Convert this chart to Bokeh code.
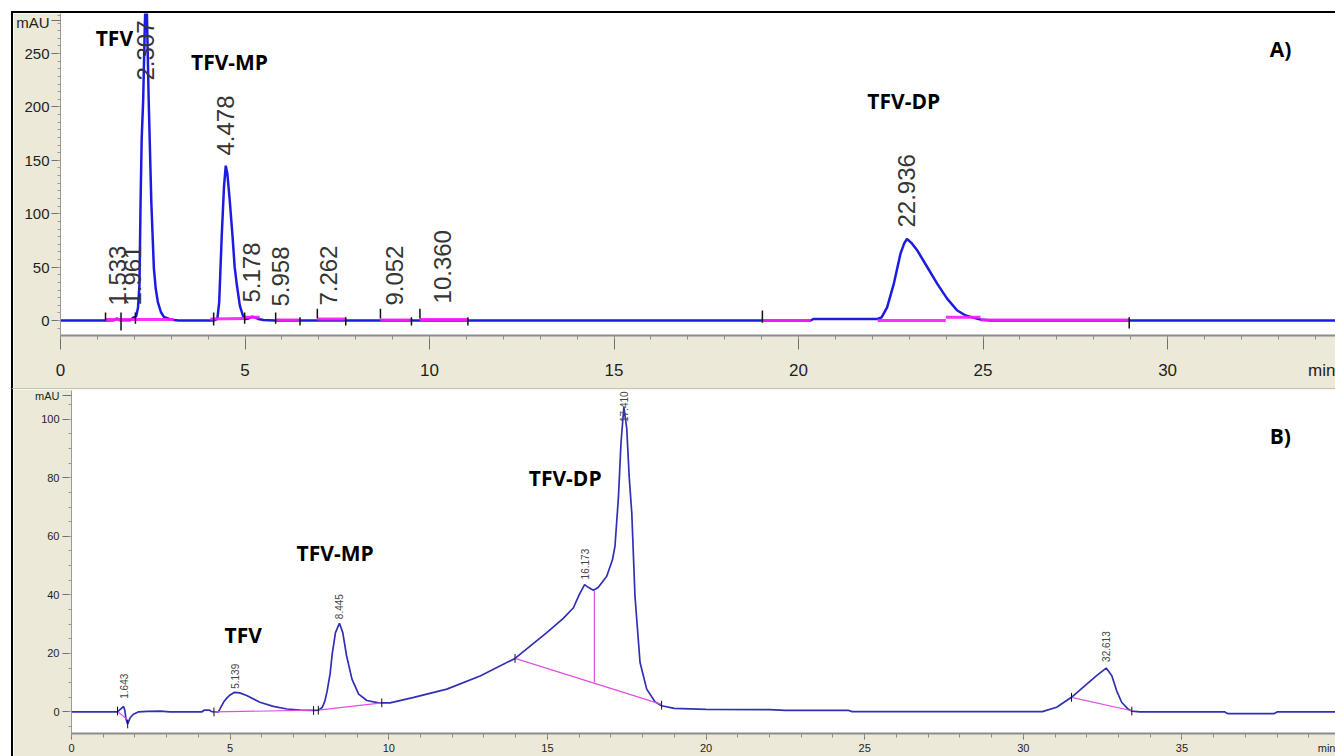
import numpy as np
from bokeh.plotting import figure
from bokeh.layouts import column
from bokeh.models import Range1d, FixedTicker
from bokeh.core.properties import value
from bokeh.embed import file_html
from bokeh.resources import INLINE

# ---------------- Panel A data (time in min, signal in mAU) ----------------
a_time = [0.00, 1.22, 1.45, 1.53, 1.60, 1.90, 1.96, 2.05, 2.10, 2.14, 2.17, 2.20, 2.24, 2.28, 2.307,
          2.34, 2.39, 2.46, 2.53, 2.58, 2.64, 2.72, 2.80, 2.95, 3.07, 3.20, 4.15, 4.25, 4.30, 4.37,
          4.43, 4.478, 4.52, 4.58, 4.66, 4.72, 4.78, 4.86, 4.95, 5.00, 5.10, 5.18, 5.26, 5.36, 5.50,
          5.80, 20.33, 20.40, 22.14, 22.25, 22.40, 22.58, 22.76, 22.86, 22.936, 23.05, 23.22, 23.49,
          23.76, 24.03, 24.30, 24.53, 24.75, 24.93, 25.20, 34.55]
a_signal = [0, 0, 0.3, 2.0, 0.3, 0.3, 2.5, 4, 12, 34, 112, 170, 206, 269, 305,
            290, 206, 112, 49, 30, 17, 8, 3.5, 1.5, 0.5, 0, 0, 1.5, 17, 80,
            125, 145, 138, 115, 80, 50, 33, 14, 4, 1.5, 2, 3.5, 3, 1.5, 0.5,
            0, 0, 1.5, 1.5, 3, 12.4, 34.3, 62.4, 72, 76.4, 73, 65.5, 49.9,
            34.3, 20.3, 9.4, 4.7, 2.5, 1.0, 0, 0]

a_base_t0 = [1.22, 4.06, 4.99, 5.83, 6.96, 8.67, 9.74, 19.02, 22.14, 23.99, 24.93]
a_base_t1 = [3.07, 4.99, 5.40, 6.49, 7.73, 9.51, 11.04, 20.33, 23.99, 24.93, 28.96]
a_base_v0 = [1.0, 1.5, 3.0, 0.5, 1.5, 0.5, 1.0, 0.0, 0.0, 3.0, 0.5]
a_base_v1 = [1.0, 2.0, 3.0, 0.5, 1.5, 0.5, 1.0, 0.0, 0.0, 3.0, 0.5]

a_tick_t = [1.22, 1.64, 2.03, 4.15, 4.99, 5.83, 6.49, 6.96, 7.73, 8.67, 9.51, 9.74, 11.04, 19.02, 28.96]
a_tick_lo = [0, -9.4, -3, -4.7, -3, -3, -4.7, 2, -4.7, 2, -4.7, 2, -4.7, -2, -7.5]
a_tick_hi = [7.5, 7.5, 7.5, 7.5, 7.5, 7.5, 3, 11, 3, 11, 3, 11, 3, 9.4, 3]

a_rt_labels = ["1.533", "1.961", "2.307", "4.478", "5.178", "5.958", "7.262", "9.052", "10.360", "22.936"]
a_rt_times = [1.533, 1.961, 2.307, 4.478, 5.178, 5.958, 7.262, 9.052, 10.360, 22.936]
a_rt_base = [14.0, 14.0, 224.7, 154.5, 16.9, 13.1, 14.0, 14.0, 16.0, 87.1]

a_names = ["TFV", "TFV-MP", "TFV-DP", "A)"]
a_name_t = [1.46, 4.58, 22.85, 33.06]
a_name_v = [265.0, 242.5, 206.0, 254.7]

a_xticks = [0, 5, 10, 15, 20, 25, 30]
a_yticks = [0, 50, 100, 150, 200, 250]
a_yunit_pos = 281
a_xunit_pos = 34.54

# ---------------- Panel B data ----------------
b_time = [0.00, 1.43, 1.50, 1.60, 1.643, 1.68, 1.72, 1.77, 1.85, 1.95, 2.10, 2.40, 2.80, 3.10, 4.10,
          4.18, 4.35, 4.42, 4.63, 4.79, 4.90, 5.00, 5.139, 5.30, 5.52, 5.94, 6.36, 6.79, 7.21, 7.63,
          7.78, 7.90, 7.98, 8.05, 8.15, 8.22, 8.32, 8.445, 8.55, 8.67, 8.84, 9.05, 9.31, 9.68, 10.04,
          10.79, 11.83, 12.88, 13.98, 14.98, 15.50, 15.82, 16.00, 16.173, 16.30, 16.45, 16.60, 16.87,
          17.05, 17.13, 17.24, 17.32, 17.41, 17.50, 17.58, 17.66, 17.76, 17.92, 18.13, 18.39, 18.60,
          19.00, 20.00, 22.00, 22.50, 24.50, 24.60, 30.60, 31.05, 31.52, 32.00, 32.31, 32.613, 32.79,
          32.94, 33.10, 33.31, 33.42, 33.67, 36.35, 36.45, 37.90, 38.00, 39.84]
b_signal = [0, 0, 0.5, 1.5, 1.9, 0.5, -2.5, -4.1, -2.0, -0.8, 0, 0.2, 0.3, 0, 0,
            0.6, 0.6, 0.1, 0, 3.3, 4.8, 5.8, 6.7, 6.5, 5.6, 3.3, 1.9, 1.0, 0.6, 0.5,
            0.6, 1.5, 3.5, 6.7, 13, 20, 27.1, 30.3, 27.1, 19.2, 11.2, 6.1, 3.9, 3.1, 3.1,
            5.0, 7.8, 12.3, 18.3, 27.1, 32, 35.6, 40, 43.5, 42.5, 41.6, 42.5, 46.4,
            52, 56.6, 73.6, 92, 104.2, 97, 80, 67.9, 39.6, 16.9, 7.8, 3.5, 2.1,
            1.2, 0.9, 0.8, 0.5, 0.5, 0.1, 0.1, 1.6, 5.0, 9.5, 12.4, 15.0, 12.4,
            7.3, 3.3, 0.9, 0.3, 0, 0, -0.6, -0.6, 0, 0]

b_base_t0 = [1.47, 4.49, 7.78, 13.98, 16.48, 31.52]
b_base_t1 = [1.75, 7.63, 9.78, 18.60, 16.48, 33.42]
b_base_v0 = [0.0, 0.0, 0.6, 18.3, 41.6, 5.0]
b_base_v1 = [-2.5, 0.6, 3.1, 2.6, 10.1, 0.4]

b_tick_t = [1.45, 1.77, 4.49, 7.63, 7.78, 9.78, 13.98, 18.60, 31.52, 33.42]
b_tick_lo = [-1.2, -5.6, -1.5, -1.0, -0.9, 1.6, 16.8, 0.8, 3.5, -1.2]
b_tick_hi = [1.8, -2.6, 1.5, 2.0, 2.1, 4.6, 19.8, 3.8, 6.5, 1.8]

b_rt_labels = ["1.643", "5.139", "8.445", "16.173", "17.410", "32.613"]
b_rt_times = [1.643, 5.139, 8.445, 16.173, 17.410, 32.613]
b_rt_base = [4.5, 7.9, 31.7, 45.3, 99.1, 17.1]

b_names = ["TFV", "TFV-MP", "TFV-DP", "B)"]
b_name_t = [5.41, 8.31, 15.56, 38.10]
b_name_v = [26.3, 54.4, 79.9, 94.2]

b_xticks = [0, 5, 10, 15, 20, 25, 30, 35]
b_yticks = [0, 20, 40, 60, 80, 100]
b_yunit_pos = 108
b_xunit_pos = 39.83

BEIGE = "#ECE9D8"
FONT = "Liberation Sans"
BOLD_FONT = "Open Sans"


def style_axes(p, xticks, xminor, xunit, yticks, yminor, yunit, xfs, yfs, xtick_major, xstand, ystand):
    p.grid.visible = False
    xa = p.xaxis[0]
    xa.ticker = FixedTicker(ticks=xticks + [xunit], minor_ticks=xminor)
    xa.major_label_overrides = {xunit: "min"}
    xa.axis_label = None
    xa.axis_line_color = "#8c8c8c"
    xa.axis_line_width = 2
    xa.major_tick_in = 0
    xa.major_tick_out = xtick_major
    xa.minor_tick_in = 0
    xa.minor_tick_out = 4
    xa.major_tick_line_color = "#707070"
    xa.minor_tick_line_color = "#8c8c8c"
    xa.major_label_text_font = FONT
    xa.major_label_text_font_size = xfs
    xa.major_label_text_color = "#1e1e1e"
    xa.major_label_standoff = xstand
    ya = p.yaxis[0]
    ya.ticker = FixedTicker(ticks=yticks + [yunit], minor_ticks=yminor)
    ya.major_label_overrides = {yunit: "mAU"}
    ya.axis_label = None
    ya.axis_line_color = "#9a9a9a"
    ya.axis_line_width = 1
    ya.major_tick_in = 0
    ya.major_tick_out = 9
    ya.minor_tick_in = 0
    ya.minor_tick_out = 3
    ya.major_tick_line_color = "#707070"
    ya.minor_tick_line_color = "#9a9a9a"
    ya.major_label_text_font = FONT
    ya.major_label_text_font_size = yfs
    ya.major_label_text_color = "#1e1e1e"
    ya.major_label_standoff = ystand


# ---------------- Panel A ----------------
pA = figure(width=1322, height=375, output_backend="svg", toolbar_location=None,
            x_range=Range1d(0, 34.55), y_range=Range1d(-14.0, 287.5),
            min_border_left=47, min_border_right=0, min_border_top=0, min_border_bottom=53,
            background_fill_color="white", border_fill_color=BEIGE, outline_line_color=None)
style_axes(pA, a_xticks, list(range(0, 35)), a_xunit_pos,
           a_yticks, [i * 50 / 7 for i in range(-1, 41)], a_yunit_pos,
           "17px", "15px", 14, 11, 2)

pA.line(a_time, a_signal, line_color="#1c1ce0", line_width=2.5)
pA.segment(a_base_t0, a_base_v0, a_base_t1, a_base_v1, line_color="#ff1aff", line_width=3, line_alpha=0.9)
pA.segment(a_tick_t, a_tick_lo, a_tick_t, a_tick_hi, line_color="#111111", line_width=1.5)
pA.text(a_rt_times, a_rt_base, text=a_rt_labels, angle=np.pi / 2, text_align="left",
        text_baseline="middle", text_font=value(FONT), text_font_size="24px", text_color="#353535")
pA.text(a_name_t, a_name_v, text=a_names, text_align="center", text_baseline="middle",
        text_font=value(BOLD_FONT), text_font_style="bold", text_font_size="21px", text_color="black")

# ---------------- Panel B ----------------
pB = figure(width=1322, height=367, output_backend="svg", toolbar_location=None,
            x_range=Range1d(0, 39.84), y_range=Range1d(-7.37, 109.85),
            min_border_left=58, min_border_right=0, min_border_top=1, min_border_bottom=21,
            background_fill_color="white", border_fill_color=BEIGE, outline_line_color=None)
style_axes(pB, b_xticks, list(range(0, 40)), b_xunit_pos,
           b_yticks, list(range(-5, 110, 5)), b_yunit_pos,
           "11px", "11px", 6, 2, 3)

pB.line(b_time, b_signal, line_color="#3030b4", line_width=1.7)
pB.segment(b_base_t0, b_base_v0, b_base_t1, b_base_v1, line_color="#e050e0", line_width=1.2)
pB.segment(b_tick_t, b_tick_lo, b_tick_t, b_tick_hi, line_color="#111111", line_width=1)
pB.text(b_rt_times, b_rt_base, text=b_rt_labels, angle=np.pi / 2, text_align="left",
        text_baseline="middle", text_font=value(FONT), text_font_size="10px", text_color="#444444")
pB.text(b_name_t, b_name_v, text=b_names, text_align="center", text_baseline="middle",
        text_font=value(BOLD_FONT), text_font_style="bold", text_font_size="21px", text_color="black")

rootA = column(pA)
rootA.styles = {"margin-left": "11px", "margin-top": "11px",
                "border-left": "2px solid black", "border-top": "2px solid black"}
rootB = column(pB)
rootB.styles = {"margin-left": "11px", "border-left": "2px solid black",
                "border-top": "1px solid #c4c1b2"}

open("out.html", "w").write(file_html([rootA, rootB], INLINE))
